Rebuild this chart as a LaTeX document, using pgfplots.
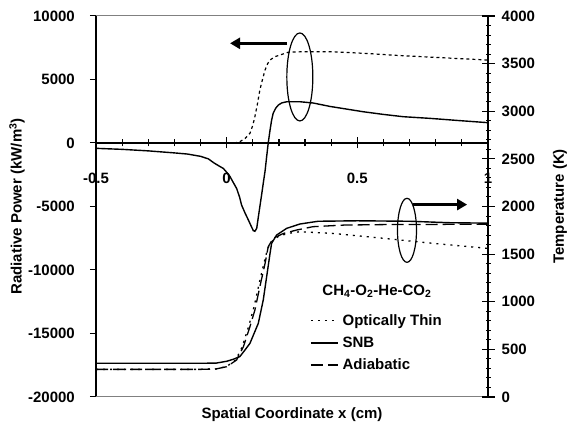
\documentclass[border=0pt]{standalone}
\usepackage{fontspec}
\setmainfont{Liberation Sans}
\usepackage{pgfplots}
\pgfplotsset{compat=1.18}
\usetikzlibrary{arrows.meta}
\newcommand\myfont{\fontsize{15}{18}\selectfont\bfseries}
\begin{document}
\begin{tikzpicture}[x=1pt,y=1pt]
\useasboundingbox (-96,-39) rectangle (485,397);
\pgfplotsset{
  base/.style={width=392pt,height=381pt,scale only axis,xmin=-0.5,xmax=1,
    at={(0,0)},anchor=south west,clip=false,scaled ticks=false},
}
% ---------- left axis: radiative power ----------
\begin{axis}[base, ymin=-20000, ymax=10000,
  axis x line=none, axis y line*=left,
  ytick={-20000,-15000,-10000,-5000,0,5000,10000},
  yticklabels={-20000,-15000,-10000,-5000,0,5000,10000},
  tick align=outside, major tick length=6pt,
  y axis line style={line width=1.3pt},
  ytick style={line width=1pt,black},
  yticklabel style={font=\myfont,inner sep=0pt,anchor=east,xshift=-15pt},
  ylabel={Radiative Power (kW/m\textsuperscript{3})},
  ylabel style={font=\myfont,at={(axis description cs:-0.2015,0.5)},anchor=center}]
% SNB radiative power
\addplot[black,line width=1.4pt] coordinates {
(-0.5,-420) (-0.4,-500) (-0.3,-620) (-0.2,-780) (-0.15,-870) (-0.1,-1050)
(-0.07,-1250) (-0.05,-1550) (-0.03,-1800) (-0.013,-2000) (0.0,-2300)
(0.013,-2650) (0.025,-3100) (0.038,-3570) (0.05,-4300) (0.057,-4880)
(0.07,-5500) (0.083,-6060) (0.095,-6600) (0.102,-6900) (0.108,-6950)
(0.115,-6720) (0.12,-6000) (0.127,-5010) (0.135,-3900) (0.140,-3170)
(0.147,-2200) (0.153,-1080) (0.159,0) (0.166,1020) (0.172,1800)
(0.178,2340) (0.188,2750) (0.198,2990) (0.21,3150) (0.23,3250) (0.28,3250)
(0.331,3150) (0.395,2880) (0.45,2700) (0.523,2460) (0.6,2250) (0.676,2070)
(0.778,1940) (0.893,1760) (1.0,1600)};
% Optically thin radiative power
\addplot[black,line width=1.2pt,dash pattern=on 3pt off 3pt] coordinates {
(-0.5,0) (0.03,0) (0.05,100) (0.07,350) (0.089,760) (0.1,1400) (0.108,2070)
(0.118,3100) (0.127,4170) (0.137,5000) (0.147,5750) (0.157,6250)
(0.166,6540) (0.185,6800) (0.204,6930) (0.236,7150) (0.3,7190) (0.4,7190)
(0.536,7050) (0.65,6900) (0.79,6750) (1.0,6530)};
\draw[gray,line width=1pt] (rel axis cs:0,1) -- (rel axis cs:1,1);
\draw[gray,line width=1pt] (rel axis cs:0,0) -- (rel axis cs:1,0);
\draw[line width=1.2pt] (axis cs:0.28,5200) ellipse [x radius=13pt, y radius=44pt];
\draw[line width=3.2pt,-{Triangle[length=10pt,width=11pt]}] (axis cs:0.231,7850) -- (axis cs:0.013,7850);
\node[font=\myfont] at (rel axis cs:0.5,-0.047) {Spatial Coordinate x (cm)};
\end{axis}
% ---------- x axis in the middle (power = 0) ----------
\begin{axis}[base, ymin=-20000, ymax=10000,
  axis y line=none, axis x line*=middle,
  x axis line style={line width=1.5pt},
  xtick={-0.5,0,0.5,1}, xticklabels={-0.5,0,0.5,1},
  minor xtick={-0.4,-0.3,-0.2,-0.1,0.1,0.2,0.3,0.4,0.6,0.7,0.8,0.9},
  xtick align=center, major tick length=11pt, minor tick length=7pt,
  x tick style={line width=1.3pt,draw=black},
  minor x tick style={line width=1.2pt,draw=black},
  xticklabel style={font=\myfont,inner sep=0pt,anchor=north,yshift=-24pt}]
\addplot[draw=none] coordinates {(0,0)};
\end{axis}
% ---------- right axis: temperature ----------
\begin{axis}[base, ymin=0, ymax=4000,
  axis x line=none, axis y line*=right,
  y axis line style={line width=1.3pt},
  ytick={0,500,...,4000}, yticklabels={0,500,1000,1500,2000,2500,3000,3500,4000},
  minor y tick num=4,
  tick align=center, major tick length=13pt, minor tick length=5pt,
  major tick style={line width=1.2pt,black},
  minor tick style={line width=1pt,black},
  yticklabel style={font=\myfont,inner sep=0pt,anchor=west,xshift=7pt},
  ylabel={Temperature (K)},
  ylabel style={font=\myfont,at={(axis description cs:1.1837,0.5)},anchor=center},
  legend style={at={(rel axis cs:0.546,0.222)},anchor=north west,draw=none,fill=none,
    font=\myfont,row sep=6pt,inner sep=0pt,
    nodes={inner xsep=4pt}},
  legend cell align=left,
  legend image code/.code={\draw[#1] (0pt,0pt) -- (27pt,0pt);}]
\addplot[black,line width=1.3pt,dash pattern=on 2pt off 5pt] coordinates {
(-0.5,290) (-0.1,290) (-0.04,295) (0.0,320) (0.035,390) (0.06,530)
(0.085,750) (0.105,950) (0.125,1200) (0.145,1430) (0.157,1560) (0.175,1640)
(0.2,1690) (0.24,1720) (0.28,1735) (0.408,1717) (0.6,1666) (0.79,1613) (1.0,1560)};
\addlegendentry{Optically Thin}
\addplot[black,line width=1.4pt] coordinates {
(-0.5,354) (-0.1,354) (-0.04,356) (0.0,375) (0.025,396) (0.05,423)
(0.07,493) (0.089,563) (0.121,773) (0.140,1018) (0.153,1263) (0.166,1508)
(0.172,1613) (0.191,1700) (0.23,1771) (0.28,1816) (0.35,1845) (0.5,1850)
(0.7,1845) (0.85,1830) (1.0,1825)};
\addlegendentry{SNB}
\addplot[black,line width=1.3pt,dash pattern=on 12pt off 5pt] coordinates {
(-0.5,290) (-0.1,290) (-0.04,295) (0.0,318) (0.038,388) (0.064,528)
(0.089,738) (0.108,913) (0.127,1158) (0.147,1403) (0.159,1578) (0.178,1666)
(0.217,1717) (0.268,1753) (0.33,1788) (0.45,1805) (0.6,1810) (0.8,1812) (1.0,1815)};
\addlegendentry{Adiabatic}
\node[font=\myfont] at (axis cs:0.575,1110) {CH\textsubscript{4}-O\textsubscript{2}-He-CO\textsubscript{2}};
\draw[line width=1.2pt] (axis cs:0.69,1750) ellipse [x radius=9.5pt, y radius=32pt];
\draw[line width=3.2pt,-{Triangle[length=10pt,width=11pt]}] (axis cs:0.713,2020) -- (axis cs:0.92,2020);
\end{axis}
\end{tikzpicture}
\end{document}
